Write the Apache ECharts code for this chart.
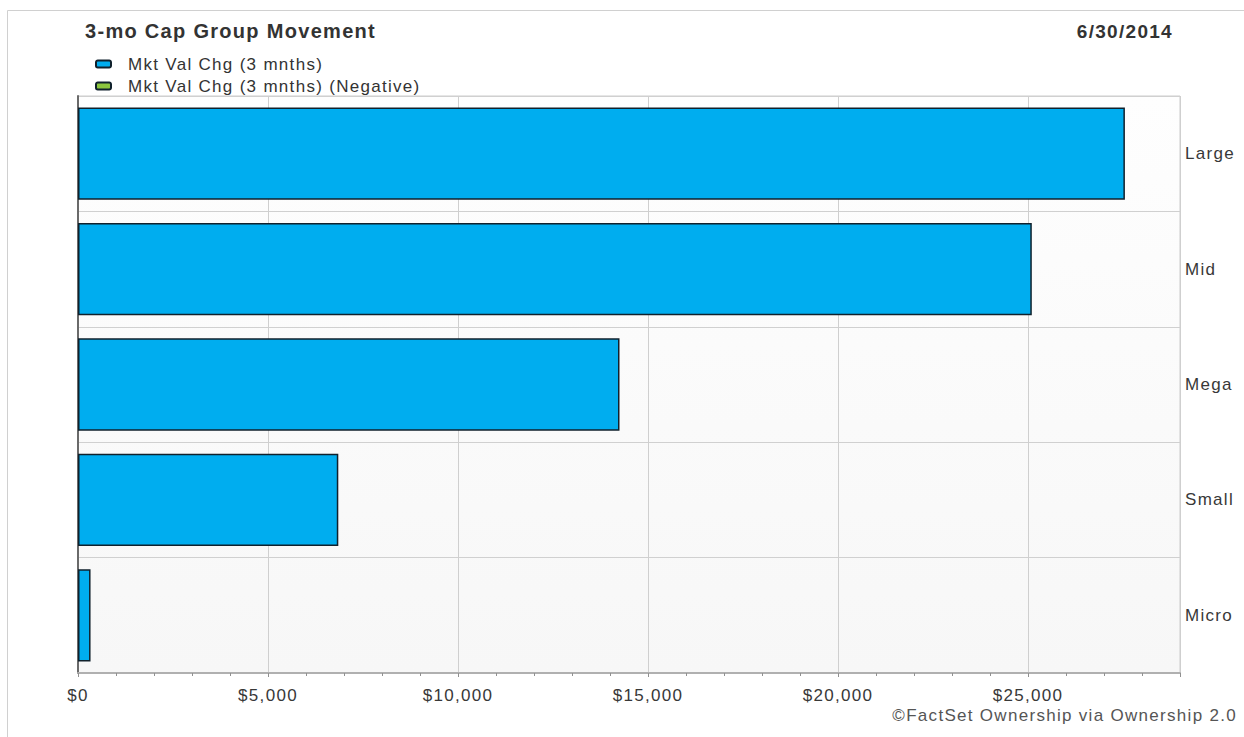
<!DOCTYPE html>
<html>
<head>
<meta charset="utf-8">
<script src="https://cdn.jsdelivr.net/npm/echarts@6/dist/echarts.min.js"></script>
<style>
html,body{margin:0;padding:0;background:#fff;}
#main{width:1244px;height:737px;letter-spacing:1.3px;}
</style>
</head>
<body>
<div id="main"></div>
<script>
// ---- data ----
const categories = ['Large', 'Mid', 'Mega', 'Small', 'Micro'];
const mktValChg = [27550, 25100, 14250, 6850, 330];
const mktValChgNegative = ['-', '-', '-', '-', '-'];
const xTickLabels = ['$0', '$5,000', '$10,000', '$15,000', '$20,000', '$25,000'];
const seriesNames = ['Mkt Val Chg (3 mnths)', 'Mkt Val Chg (3 mnths) (Negative)'];
const chartTitle = '3-mo Cap Group Movement';
const chartDate = '6/30/2014';
const footer = '\u00A9FactSet Ownership via Ownership 2.0';

const FONT = '"Liberation Sans", Arial, Helvetica, sans-serif';
const chart = echarts.init(document.getElementById('main'), null, {renderer: 'svg'});

const option = {
  backgroundColor: '#ffffff',
  animation: false,
  textStyle: {fontFamily: FONT},
  legend: {
    orient: 'vertical',
    left: 95,
    top: 55,
    padding: 0,
    itemWidth: 15,
    itemHeight: 7,
    itemGap: 4,
    data: seriesNames,
    textStyle: {fontSize: 17, color: '#333', lineHeight: 18, fontFamily: FONT, padding: [0, 0, 0, 12]}
  },
  grid: {
    left: 78, right: 64, top: 96, bottom: 64,
    show: true,
    borderColor: '#cccccc',
    borderWidth: 1,
    backgroundColor: {
      type: 'linear', x: 0, y: 0, x2: 0, y2: 1,
      colorStops: [{offset: 0, color: '#fefefe'}, {offset: 1, color: '#f7f7f7'}]
    }
  },
  xAxis: [
    {
      type: 'value', position: 'bottom',
      min: 0, max: 29000, interval: 5000,
      axisLine: {show: true, lineStyle: {color: '#b0b0b0', width: 2}},
      axisTick: {show: true, length: 4, lineStyle: {color: '#909090'}},
      splitLine: {show: true, lineStyle: {color: '#cfcfcf', width: 1}},
      axisLabel: {
        show: true, margin: 14, fontSize: 17, color: '#383838', fontFamily: FONT,
        formatter: function (v) {
          if (v % 5000 !== 0) return '';
          const i = v / 5000;
          return xTickLabels[i] !== undefined ? xTickLabels[i] : '';
        }
      }
    },
    {
      type: 'value', position: 'bottom', offset: 0,
      min: 0, max: 29000, interval: 1000,
      axisLine: {show: false},
      axisTick: {show: true, length: 3, lineStyle: {color: '#909090'}},
      splitLine: {show: false},
      axisLabel: {show: false}
    }
  ],
  yAxis: [
    {
      type: 'category', data: categories, inverse: true, position: 'left',
      axisLine: {show: true, lineStyle: {color: '#6a6a6a', width: 2}},
      axisTick: {show: false},
      axisLabel: {show: false},
      splitLine: {show: true, lineStyle: {color: '#d0d0d0', width: 1}}
    },
    {
      type: 'category', data: categories, inverse: true, position: 'right',
      axisLine: {show: false},
      axisTick: {show: false},
      splitLine: {show: false},
      axisLabel: {show: true, margin: 5, fontSize: 17, color: '#383838', fontFamily: FONT}
    }
  ],
  series: [
    {
      name: seriesNames[0], type: 'bar', stack: 'mv',
      xAxisIndex: 0, yAxisIndex: 0,
      barCategoryGap: '20%',
      data: mktValChg,
      itemStyle: {color: '#00adef', borderColor: '#10212c', borderWidth: 1.5}
    },
    {
      name: seriesNames[1], type: 'bar', stack: 'mv',
      xAxisIndex: 0, yAxisIndex: 0,
      barCategoryGap: '20%',
      data: mktValChgNegative,
      itemStyle: {color: '#8cc63e', borderColor: '#10212c', borderWidth: 1.5}
    }
  ],
  graphic: [
    {
      type: 'rect', silent: true, z: 100,
      shape: {x: 7.5, y: 10.5, width: 1400, height: 900},
      style: {fill: 'none', stroke: '#d0d0d0', lineWidth: 1}
    },
    {
      type: 'text', left: 85, top: 21,
      style: {text: chartTitle, font: 'bold 20px ' + FONT, fill: '#333'}
    },
    {
      type: 'text', right: 71, top: 22,
      style: {text: chartDate, font: 'bold 19px ' + FONT, fill: '#333', textAlign: 'right'}
    },
    {
      type: 'text', right: 7, top: 707,
      style: {text: footer, font: '17px ' + FONT, fill: '#555', textAlign: 'right'}
    }
  ]
};
chart.setOption(option);
</script>
</body>
</html>
